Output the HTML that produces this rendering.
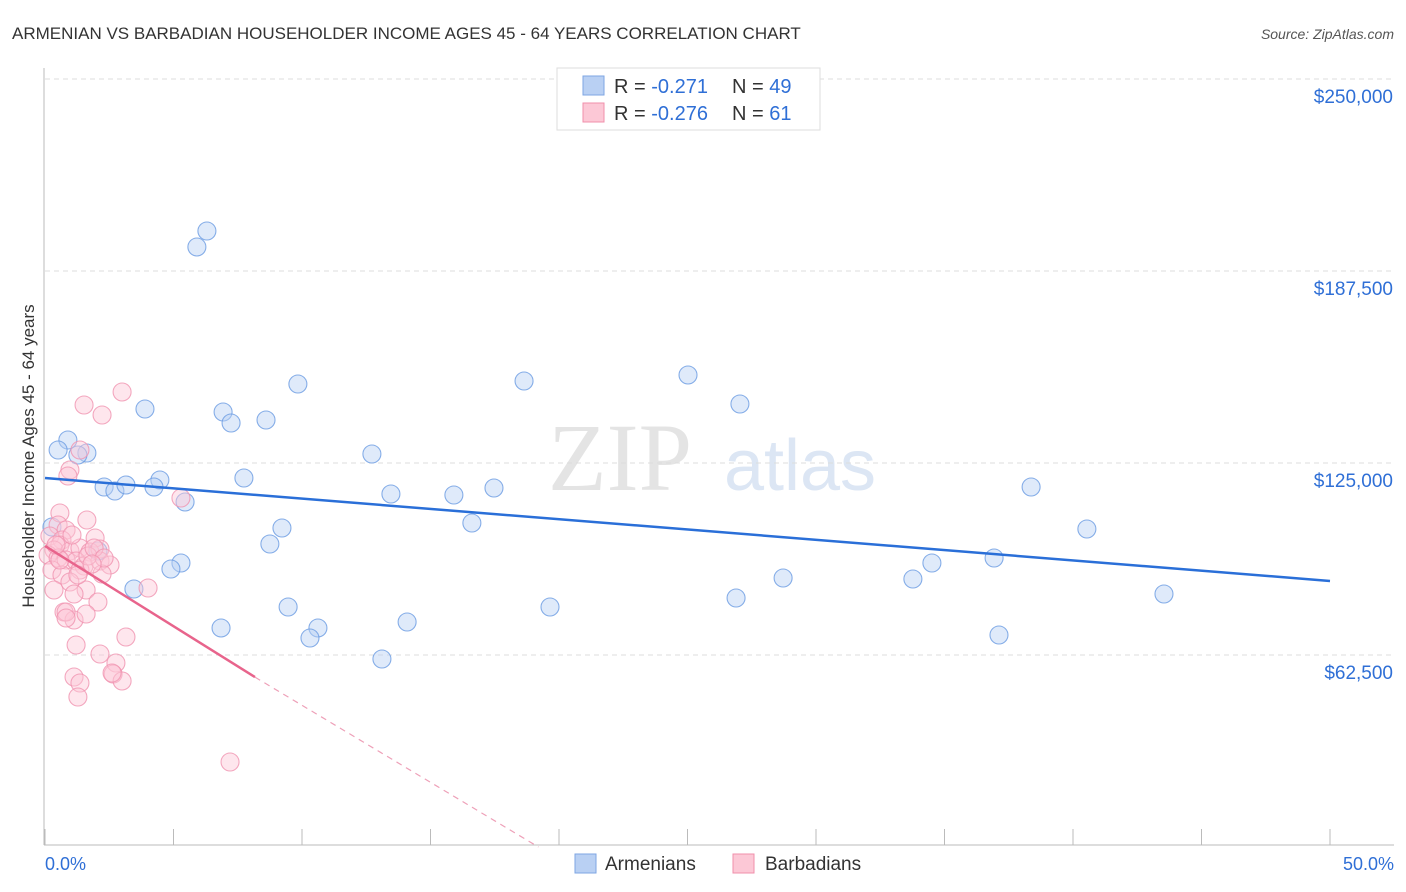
<!DOCTYPE html>
<html><head><meta charset="utf-8"><style>
body{margin:0;background:#fff;font-family:"Liberation Sans",sans-serif;}
#c{position:absolute;left:0;top:0;}
</style></head><body>
<svg id="c" width="1406" height="892">
<text x="12" y="39" font-size="17" fill="#333">ARMENIAN VS BARBADIAN HOUSEHOLDER INCOME AGES 45 - 64 YEARS CORRELATION CHART</text>
<text x="1394" y="39" font-size="14" fill="#555" font-style="italic" text-anchor="end">Source: ZipAtlas.com</text>
<text x="620" y="490" font-size="96" fill="#e4e4e4" font-family="Liberation Serif,serif" text-anchor="middle">ZIP</text>
<text x="800" y="490" font-size="72" fill="#dce6f4" text-anchor="middle">atlas</text>
<g id="grid"></g><g id="axes"></g><g id="pts"></g><g id="lines"></g>
<text transform="translate(34,456) rotate(-90)" font-size="17" fill="#333" text-anchor="middle">Householder Income Ages 45 - 64 years</text>
<g>
<rect x="557" y="68" width="263" height="62" fill="#fff" stroke="#ddd"/>
<rect x="583" y="76" width="21" height="19" fill="#b9d0f3" stroke="#7ea6e3"/>
<rect x="583" y="103" width="21" height="19" fill="#fcc8d6" stroke="#f08fab"/>
<text x="614" y="93" font-size="20" fill="#333">R = <tspan fill="#2f6fd6">-0.271</tspan><tspan x="732">N = </tspan><tspan fill="#2f6fd6">49</tspan></text>
<text x="614" y="120" font-size="20" fill="#333">R = <tspan fill="#2f6fd6">-0.276</tspan><tspan x="732">N = </tspan><tspan fill="#2f6fd6"> 61</tspan></text>
</g>
<g>
<rect x="575" y="854" width="21" height="19" fill="#b9d0f3" stroke="#7ea6e3"/>
<text x="605" y="870" font-size="19" fill="#333">Armenians</text>
<rect x="733" y="854" width="21" height="19" fill="#fcc8d6" stroke="#f08fab"/>
<text x="765" y="870" font-size="19" fill="#333">Barbadians</text>
</g>
<text x="45" y="870" font-size="18" fill="#2f6fd6">0.0%</text>
<text x="1394" y="870" font-size="18" fill="#2f6fd6" text-anchor="end">50.0%</text>
</svg>
<script>
const yTicks=[62500,125000,187500,250000];
const yTickLabels=["$62,500","$125,000","$187,500","$250,000"];
const xTicks=[0,5,10,15,20,25,30,35,40,45,50];
const bluePx=[[207,231],[197,247],[688,375],[298,384],[524,381],[740,404],[145,409],[223,412],[231,423],[266,420],[68,440],[58,450],[87,453],[78,455],[372,454],[160,480],[244,478],[104,487],[115,491],[126,485],[154,487],[391,494],[454,495],[494,488],[1031,487],[185,502],[472,523],[282,528],[1087,529],[270,544],[98,551],[181,563],[171,569],[932,563],[994,558],[783,578],[913,579],[134,589],[288,607],[550,607],[736,598],[1164,594],[221,628],[318,628],[407,622],[310,638],[999,635],[382,659],[52,527]];
const pinkPx=[[122,392],[84,405],[102,415],[80,450],[70,470],[68,476],[181,498],[60,513],[87,520],[58,525],[66,530],[95,538],[50,536],[62,540],[60,545],[54,550],[70,551],[80,548],[90,552],[100,549],[48,555],[58,558],[66,560],[76,561],[84,566],[100,561],[110,565],[52,570],[62,575],[80,570],[102,574],[88,556],[54,590],[70,582],[86,590],[148,588],[98,602],[64,612],[74,620],[86,614],[66,612],[126,637],[76,645],[100,654],[116,663],[74,677],[80,683],[78,697],[113,674],[122,681],[230,762],[60,560],[56,545],[72,535],[94,548],[104,558],[74,594],[78,575],[92,564],[66,618],[112,673]];
const armX=bluePx.map(p=>+((p[0]-45)/25.7).toFixed(2));
const armY=bluePx.map(p=>Math.round((847-p[1])*62500/192));
const barX=pinkPx.map(p=>+((p[0]-45)/25.7).toFixed(2));
const barY=pinkPx.map(p=>Math.round((847-p[1])*62500/192));
const blueTrend=[[0,120100],[50,86600]];
const pinkTrend=[[0,98000],[8.17,55300],[19.2,0]];
const sx=v=>45+v*25.7, sy=v=>847-v*192/62500;
const NS="http://www.w3.org/2000/svg";
function mk(t,a,parent){const e=document.createElementNS(NS,t);for(const k in a)e.setAttribute(k,a[k]);document.getElementById(parent).appendChild(e);return e;}
yTicks.forEach((v,i)=>{
 const g=mk('line',{x1:45,x2:1394,y1:sy(v),y2:sy(v),stroke:'#ddd','stroke-dasharray':'5,4'},'grid');
 
 
 const t=mk('text',{x:1393,y:sy(v)+24,'font-size':19,fill:'#2f6fd6','text-anchor':'end'},'axes');
 t.textContent=yTickLabels[i];
 
 
});
const ax=mk('line',{x1:44,x2:44,y1:68,y2:845,stroke:'#bbb'},'axes');


const bx=mk('line',{x1:44,x2:1394,y1:845,y2:845,stroke:'#bbb'},'axes');


xTicks.forEach(v=>{const l=mk('line',{x1:sx(v),x2:sx(v),y1:829,y2:845,stroke:'#bbb'},'axes');
 
 });
function pts(X,Y,fill,stroke,name){X.forEach((x,i)=>{const c=mk('circle',{cx:sx(x),cy:sy(Y[i]),r:9,fill:fill,'fill-opacity':0.45,stroke:stroke,'stroke-opacity':0.8,'stroke-width':1.1},'pts');
 
 });}
pts(armX,armY,'#b9d0f3','#6a9be2','armenian-point');
pts(barX,barY,'#fcc8d6','#f094b0','barbadian-point');
const bl=mk('line',{x1:sx(blueTrend[0][0]),y1:sy(blueTrend[0][1]),x2:sx(blueTrend[1][0]),y2:sy(blueTrend[1][1]),stroke:'#2a6fd8','stroke-width':2.5},'lines');


const pl=mk('line',{x1:sx(pinkTrend[0][0]),y1:sy(pinkTrend[0][1]),x2:sx(pinkTrend[1][0]),y2:sy(pinkTrend[1][1]),stroke:'#e8648c','stroke-width':2.5},'lines');


const pd=mk('line',{x1:sx(pinkTrend[1][0]),y1:sy(pinkTrend[1][1]),x2:sx(pinkTrend[2][0]),y2:sy(pinkTrend[2][1]),stroke:'#eea0b8','stroke-width':1.2,'stroke-dasharray':'6,5'},'lines');


</script>
</body></html>
